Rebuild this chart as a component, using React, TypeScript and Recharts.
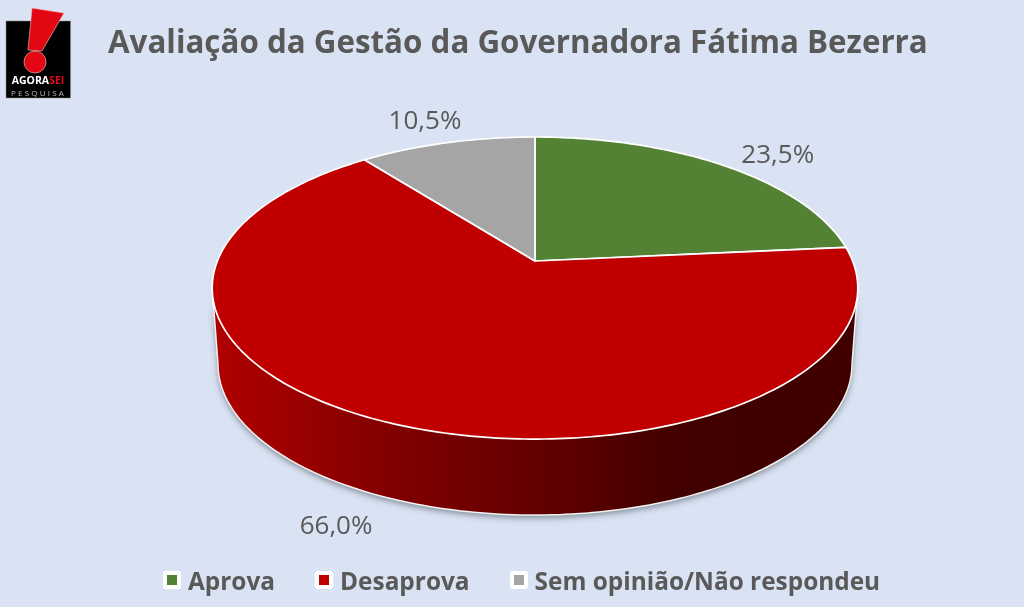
import { PieChart, Pie, Legend } from 'recharts'

const categories = ['Aprova', 'Desaprova', 'Sem opinião/Não respondeu']
const percentages = [23.5, 66.0, 10.5]
const sliceColors = ['#548235', '#c00000', '#a5a5a5']

const chartData = categories.map((name, i) => ({
  name,
  value: percentages[i],
  fill: sliceColors[i],
}))

const TEXT_COLOR = '#595959'
const FONT = '"Open Sans", sans-serif'

// Perspectiva del disco: el centro queda desplazado respecto de la elipse
const CX = 535
const CY = 261
const SCALE_X = 317.6
const SCALE_Y = 146.2
const TILT = 0.179
const DEPTH = 76
const BOTTOM_SHRINK = 0.982
const STEP = 1

// Desplazamiento de cada etiqueta desde el borde del disco
const labelOffsets = [
  [54, -13],
  [-48, 102],
  [-22, -24],
]

function project(clockDeg: number) {
  const t = (clockDeg * Math.PI) / 180
  const u = Math.sin(t)
  const v = Math.cos(t)
  const w = 1 + TILT * v
  return { x: CX + (SCALE_X * u) / w, y: CY - (SCALE_Y * v) / w }
}

function toBottom(p: { x: number; y: number }) {
  return { x: CX + (p.x - CX) * BOTTOM_SHRINK, y: p.y + DEPTH }
}

function arcPoints(from: number, to: number) {
  const pts = []
  for (let a = from; a < to; a += STEP) pts.push(project(a))
  pts.push(project(to))
  return pts
}

const toPath = (pts: { x: number; y: number }[]) =>
  pts.map((p, i) => `${i === 0 ? 'M' : 'L'}${p.x.toFixed(2)},${p.y.toFixed(2)}`).join(' ')

function DiscSlice(props: any) {
  const { startAngle, endAngle, fill } = props
  const from = 90 - startAngle
  const to = 90 - endAngle
  const top = arcPoints(from, to)

  // La pared solo se ve en la mitad frontal, entre las tangentes del disco
  const tangent = (Math.acos(-TILT) * 180) / Math.PI
  const wallFrom = Math.max(from, tangent)
  const wallTo = Math.min(to, 360 - tangent)
  const hasWall = wallTo > wallFrom
  const wallTop = hasWall ? arcPoints(wallFrom, wallTo) : []
  const wallBottom = wallTop.map(toBottom)

  return (
    <g>
      {hasWall && (
        <>
          <defs>
            <linearGradient id="wallShade" gradientUnits="userSpaceOnUse" x1="214" y1="0" x2="856" y2="0">
              <stop offset="0" stopColor="#b00000" />
              <stop offset="0.3" stopColor="#7e0000" />
              <stop offset="0.5" stopColor="#640000" />
              <stop offset="0.72" stopColor="#420000" />
              <stop offset="1" stopColor="#3f0000" />
            </linearGradient>
            <filter id="wallShadow" x="-10%" y="-10%" width="120%" height="130%">
              <feDropShadow dx="0" dy="3" stdDeviation="3" floodColor="#3a4450" floodOpacity="0.55" />
            </filter>
          </defs>
          <path
            d={`${toPath(wallTop)} ${toPath([...wallBottom].reverse()).replace('M', 'L')} Z`}
            fill="url(#wallShade)"
            filter="url(#wallShadow)"
          />
          <path
            d={toPath([wallTop[0], ...wallBottom, wallTop[wallTop.length - 1]])}
            fill="none"
            stroke="#f2f2f2"
            strokeWidth={1.5}
            strokeLinejoin="round"
          />
        </>
      )}
      <path
        d={`M${CX},${CY} ${toPath(top).replace('M', 'L')} Z`}
        fill={fill}
        stroke="#ffffff"
        strokeWidth={1.7}
        strokeLinejoin="round"
      />
    </g>
  )
}

function SliceLabel(props: any) {
  const { midAngle, index, value } = props
  const rim = project(90 - midAngle)
  const [dx, dy] = labelOffsets[index]
  return (
    <text
      x={rim.x + dx}
      y={rim.y + dy}
      fill={TEXT_COLOR}
      fontFamily={FONT}
      fontSize={26}
      textAnchor="middle"
      dominantBaseline="central"
    >
      {value.toFixed(1).replace('.', ',')}%
    </text>
  )
}

function ChartLegend({ payload }: any) {
  return (
    <div
      style={{
        display: 'flex',
        justifyContent: 'flex-start',
        alignItems: 'center',
        paddingLeft: 163,
        height: 30,
        fontFamily: FONT,
        fontSize: 24.4,
        fontWeight: 700,
        color: TEXT_COLOR,
      }}
    >
      {(payload ?? []).map((item: any, i: number) => (
        <span key={i} style={{ display: 'flex', alignItems: 'center', marginRight: 40 }}>
          <span
            style={{
              width: 10,
              height: 10,
              border: '4px solid #ffffff',
              borderRadius: 3,
              background: item.color,
              marginRight: 7,
            }}
          />
          {item.value}
        </span>
      ))}
    </div>
  )
}

function Logo() {
  return (
    <svg width={80} height={105} style={{ position: 'absolute', left: 0, top: 0 }}>
      <rect x={6} y={21} width={64.5} height={77} fill="#000000" stroke="#8a8a8a" strokeWidth={0.5} />
      <polygon points="32,8 64,13 42,51 28,50" fill="#e30613" stroke="#f5c8c8" strokeWidth={0.6} />
      <circle cx={35} cy={62} r={11} fill="#e30613" stroke="#f5c8c8" strokeWidth={0.6} />
      <text x={38} y={84} textAnchor="middle" fontFamily={FONT} fontSize={10.5} fontWeight={700} fill="#ffffff">
        AGORA<tspan fill="#e30613">SEI</tspan>
      </text>
      <text x={38.5} y={96} textAnchor="middle" fontFamily={FONT} fontSize={8} letterSpacing={2.2} fill="#bbbbbb">
        PESQUISA
      </text>
    </svg>
  )
}

export default function App() {
  return (
    <div
      style={{
        position: 'absolute',
        left: 0,
        top: 0,
        width: 1024,
        height: 607,
        overflow: 'hidden',
        background: '#dae3f3',
        filter: 'blur(0.6px)',
      }}
    >
      <Logo />
      <div
        style={{
          position: 'absolute',
          left: 108,
          top: 18,
          fontFamily: FONT,
          fontSize: 33,
          fontWeight: 700,
          color: TEXT_COLOR,
          whiteSpace: 'nowrap',
          transform: 'scaleX(0.949)',
          transformOrigin: 'left center',
        }}
      >
        Avaliação da Gestão da Governadora Fátima Bezerra
      </div>
      <PieChart width={1024} height={607} margin={{ top: 0, right: 0, bottom: 0, left: 0 }}>
        <Pie
          data={chartData}
          dataKey="value"
          nameKey="name"
          cx={CX}
          cy={CY}
          outerRadius={100}
          startAngle={90}
          endAngle={-270}
          stroke="none"
          shape={DiscSlice}
          label={SliceLabel}
          labelLine={false}
          isAnimationActive={false}
        />
        <Legend
          content={ChartLegend}
          wrapperStyle={{ position: 'absolute', left: 0, top: 565, width: 1024 }}
        />
      </PieChart>
    </div>
  )
}
